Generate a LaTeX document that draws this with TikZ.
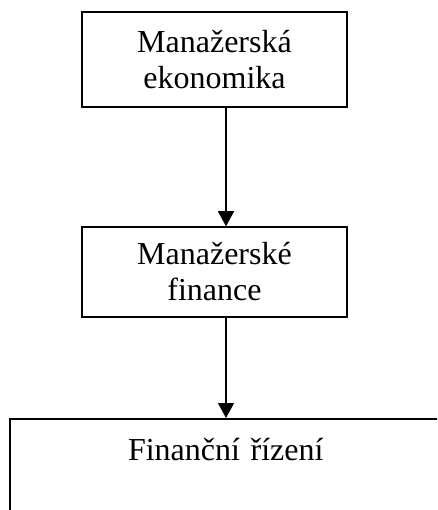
\documentclass[tikz,border=0pt]{standalone}
\usepackage{fontspec}
\setmainfont{Liberation Serif}
\usetikzlibrary{arrows.meta}

\begin{document}
\begin{tikzpicture}[x=1pt,y=-1pt]
	\useasboundingbox (0,0) rectangle (437,510);
	\clip (0,0) rectangle (437,510);
	
	\node[shape=rectangle,draw=black,line width=1.5pt,minimum width=265pt,minimum height=95pt,align=center,font=\fontsize{32}{36}\selectfont] (me) at (214.5,59.5) {Manažerská\\ekonomika};
	\node[shape=rectangle,draw=black,line width=1.5pt,minimum width=265pt,minimum height=90pt,align=center,font=\fontsize{32}{36}\selectfont] (mf) at (214.5,272) {Manažerské\\finance};
	\node[shape=rectangle,draw=black,line width=1.5pt,inner sep=0pt,text width=432pt,text height=42pt,text depth=70pt,align=center,anchor=north west,font=\fontsize{32}{36}\selectfont] (fr) at (9,418) {Finanční řízení};
	\coordinate (ax) at (226,0);
	
	\path[-{Triangle[width=16pt,length=15pt]}, line width=1.3pt] (me.south -| ax) edge (mf.north -| ax);
	\path[-{Triangle[width=16pt,length=15pt]}, line width=1.3pt] (mf.south -| ax) edge (fr.north -| ax);
	
\end{tikzpicture}
\end{document}
